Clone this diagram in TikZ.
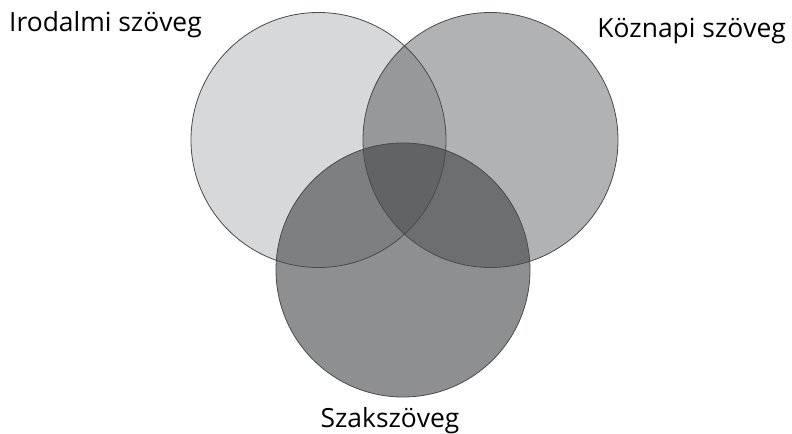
\documentclass[tikz,border=0pt]{standalone}
\usepackage{fontspec}
\setmainfont{Open Sans}
\definecolor{cL}{HTML}{D7D8DA}
\definecolor{cR}{HTML}{B1B2B4}
\definecolor{cB}{HTML}{8E8F91}
\definecolor{cLR}{HTML}{97989A}
\definecolor{cLB}{HTML}{7E7F81}
\definecolor{cRB}{HTML}{6D6E70}
\definecolor{cLRB}{HTML}{626365}
\definecolor{cEdge}{HTML}{4A4B4D}
\begin{document}
\begin{tikzpicture}[x=1bp,y=-1bp,
  edge/.style={draw=cEdge,line width=0.8bp},
  lbl/.style={font=\fontsize{26.5}{30}\selectfont,text=black,inner sep=0pt}]
\useasboundingbox (0,0) rectangle (792,434);
\fill[white] (0,0) rectangle (792,434);
\def\circL{(318.5,140) circle[radius=127.5]}
\def\circR{(490.5,140) circle[radius=127.5]}
\def\circB{(403,270) circle[radius=127]}
\fill[cL] \circL;
\fill[cR] \circR;
\fill[cB] \circB;
\begin{scope}\clip \circL; \fill[cLR] \circR; \end{scope}
\begin{scope}\clip \circL; \fill[cLB] \circB; \end{scope}
\begin{scope}\clip \circR; \fill[cRB] \circB; \end{scope}
\begin{scope}\clip \circL; \clip \circR; \fill[cLRB] \circB; \end{scope}
\draw[edge] \circL;
\draw[edge] \circR;
\draw[edge] \circB;
\node[lbl,anchor=base west] (irod) at (9,32) {Irodalmi szöveg};
\node[lbl,anchor=base east] (kozn) at (786,38) {Köznapi szöveg};
\node[lbl,anchor=base] (szak) at (390,427) {Szakszöveg};
\end{tikzpicture}
\end{document}
